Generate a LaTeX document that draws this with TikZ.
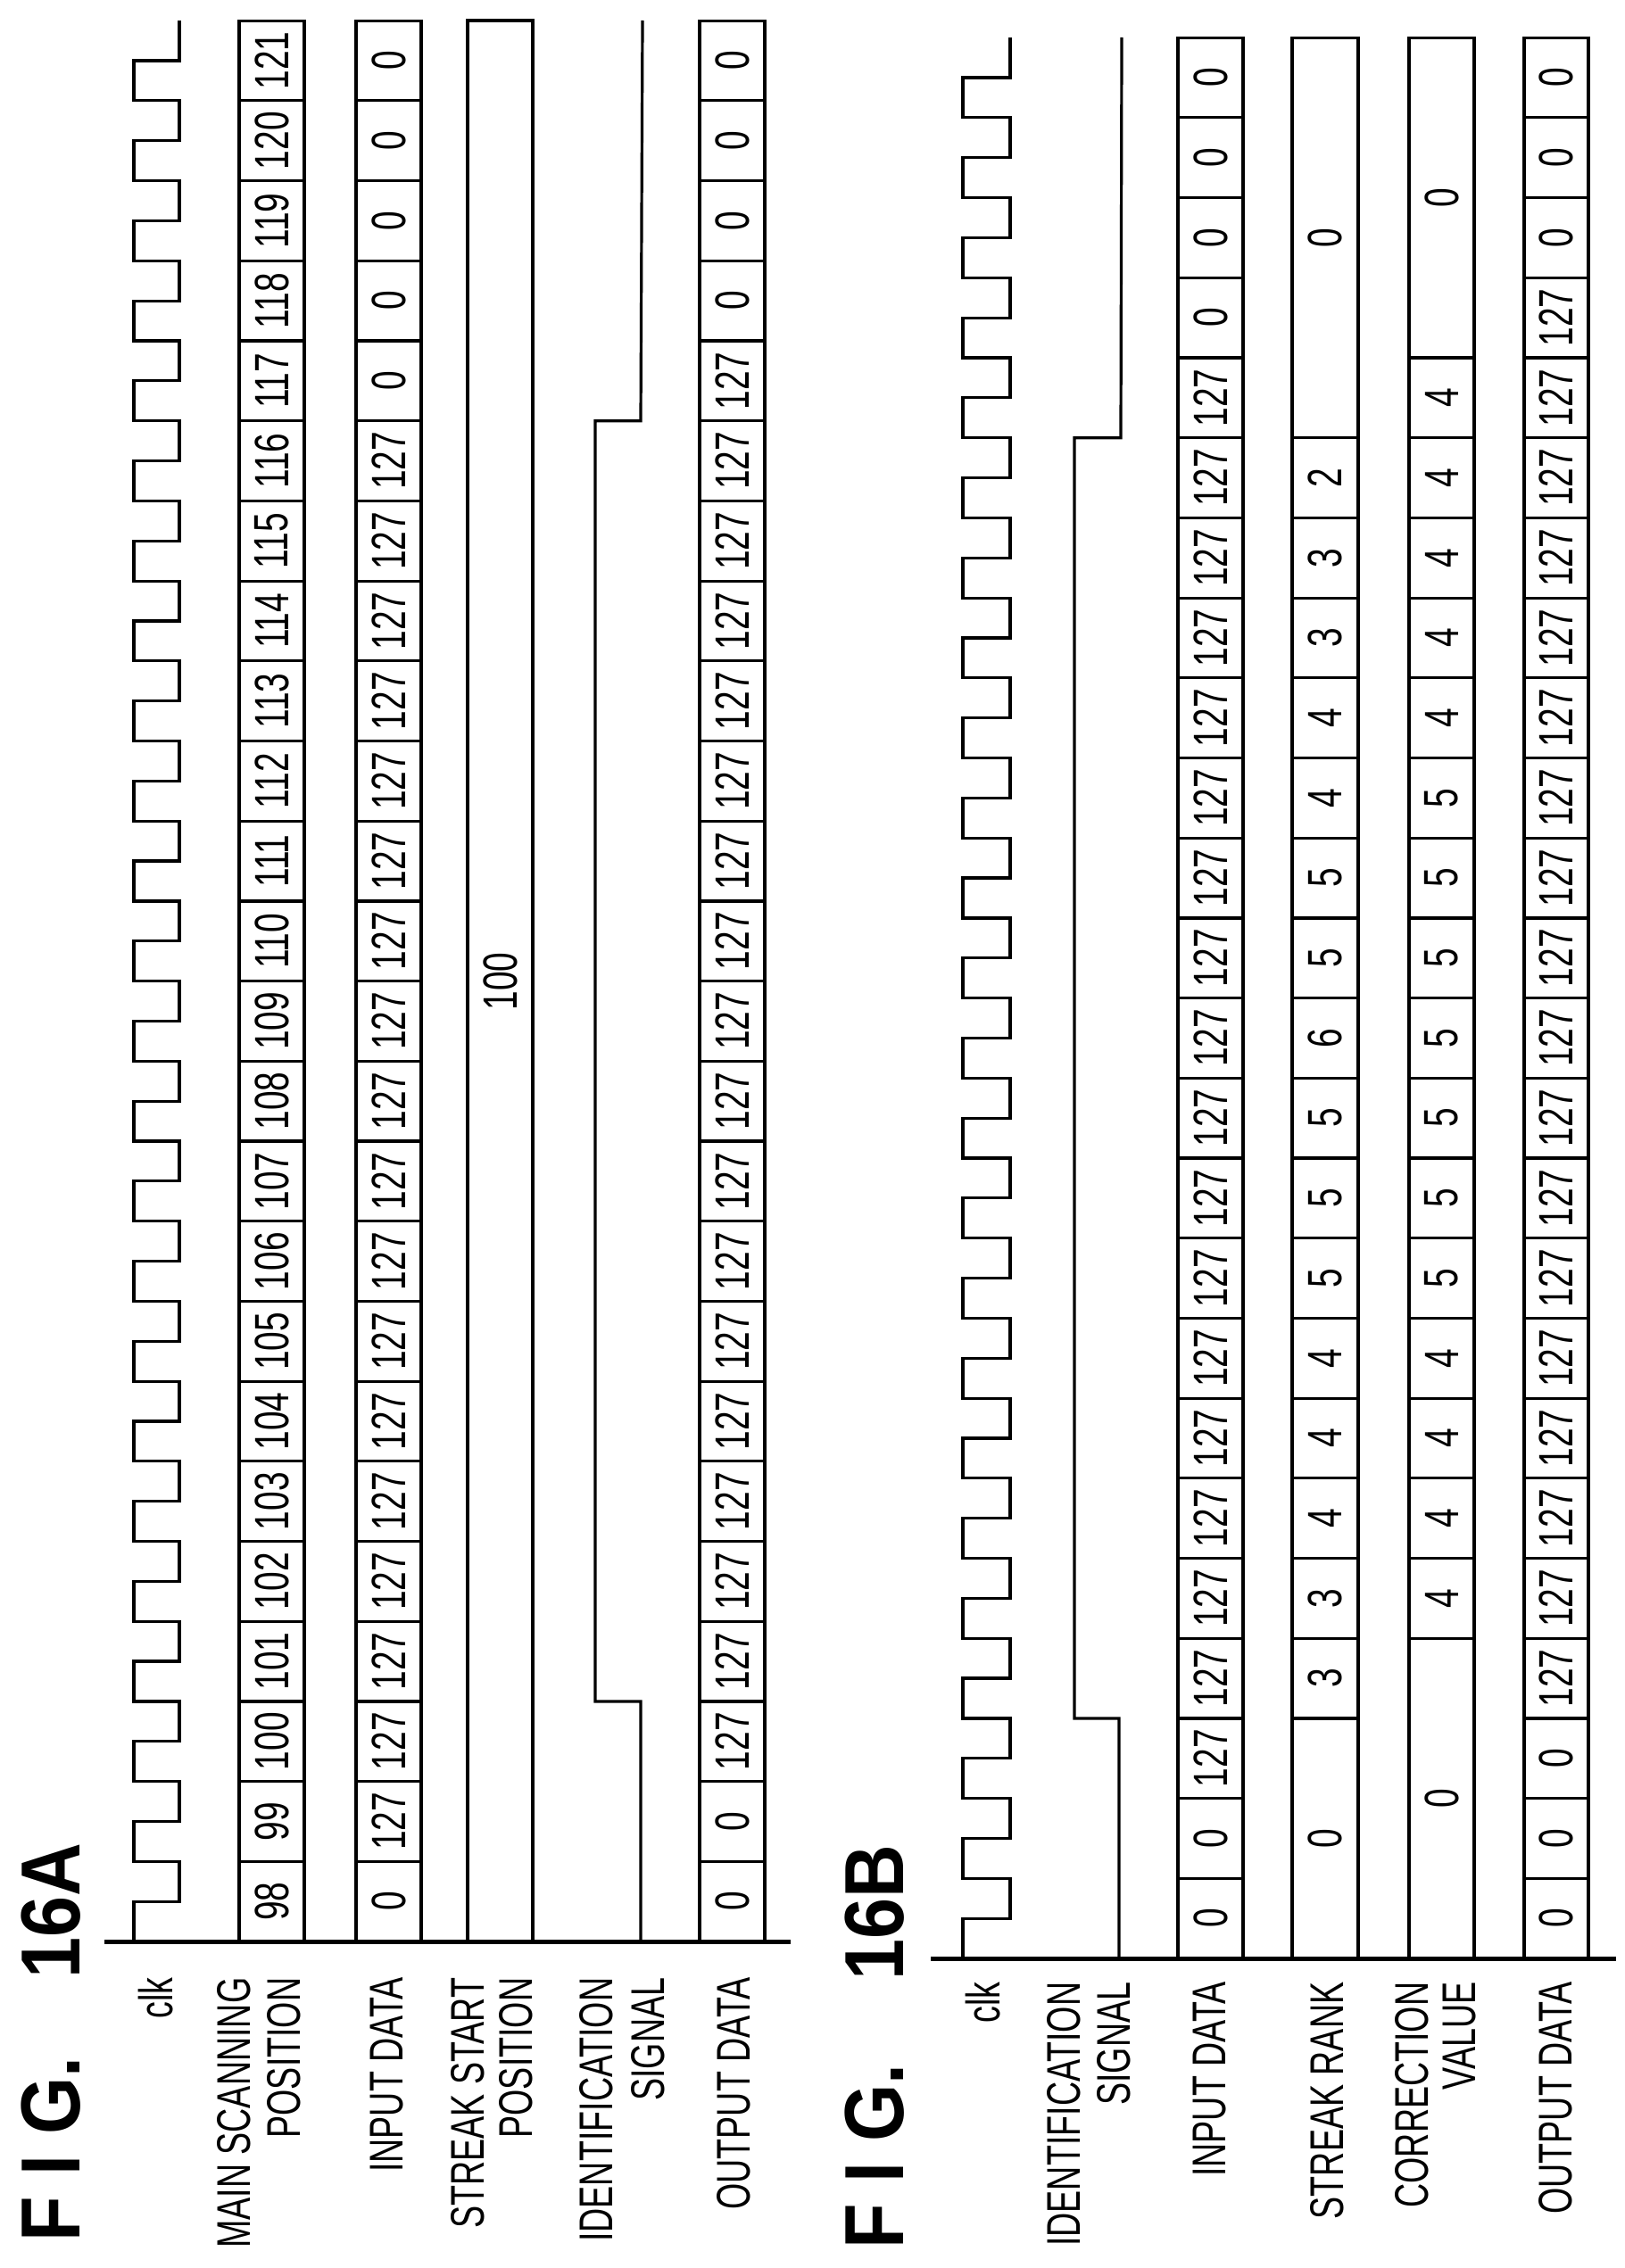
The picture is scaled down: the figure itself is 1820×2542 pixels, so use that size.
\documentclass[tikz,border=0pt]{standalone}
\usepackage{fontspec}
\newfontfamily\digf[FakeStretch=0.72]{Liberation Sans}
\newfontfamily\labf[FakeStretch=0.71]{Liberation Sans}
\newfontfamily\titf[FakeStretch=0.88]{Liberation Sans}
\def\hh{89.7}
\newcommand\mycol[4]{%
  \foreach \a/\b/\v in {#4}{%
    \draw (#1,{#3-\hh*\a}) rectangle (#2,{#3-\hh*(\b+1)});
    \node[num] at ({(#1+#2)/2},{#3-\hh*(\a+\b+1)/2}) {\v};
  }}
\newcommand\mybin[5]{%
  \foreach \k in {0,...,23}{%
    \ifnum\k<#4 \def\v{0}\else\ifnum\k>#5 \def\v{0}\else\def\v{127}\fi\fi
    \draw (#1,{#3-\hh*\k}) rectangle (#2,{#3-\hh*(\k+1)});
    \node[num] at ({(#1+#2)/2},{#3-\hh*(\k+0.5)}) {\v};
  }}
\newcommand\myclk[4]{% xhigh xlow base top
  \draw (#1,#3) \foreach \k in {0,...,22}{ -- (#1,{#3-\hh*(\k+0.5)}) -- (#2,{#3-\hh*(\k+0.5)}) -- (#2,{#3-\hh*(\k+1)}) -- (#1,{#3-\hh*(\k+1)}) }
   -- (#1,{#3-\hh*23.5}) -- (#2,{#3-\hh*23.5}) -- (#2,#4);}
\begin{document}
\begin{tikzpicture}[x=1pt,y=-1pt,line width=3.2pt,line join=miter,
  num/.style={rotate=90,inner sep=0,font=\fontsize{54}{60}\selectfont\digf},
  lab/.style={rotate=90,inner sep=0,anchor=east,font=\fontsize{53}{56}\selectfont\labf},
  tit/.style={rotate=90,inner sep=0,font=\fontsize{94}{100}\selectfont\bfseries\titf}]
\useasboundingbox (0,0) rectangle (1820,2542);
% ---------------- FIG 16A ----------------
\def\B{2176}
\myclk{150}{201}{\B}{23}
\foreach \k in {0,...,23}{%
  \pgfmathtruncatemacro\n{98+\k}
  \draw (268,{\B-\hh*\k}) rectangle (341,{\B-\hh*(\k+1)});
  \node[num] at (304.5,{\B-\hh*(\k+0.5)}) {\n};}
\mybin{399}{472}{\B}{1}{18}
\draw (524,23) rectangle (597,\B);
\node[num] at (560.5,1100) {100};
\draw (718,\B) -- (718,{\B-\hh*3}) -- (667,{\B-\hh*3}) -- (667,{\B-\hh*19}) -- (718,{\B-\hh*19}) -- (720,23);
\mybin{784}{857}{\B}{2}{19}
\draw[line width=5pt] (117,\B) -- (886,\B);
\node[lab] at (175,2215) {clk};
\node[lab] at (262,2215) {MAIN SCANNING};
\node[lab] at (318,2215) {POSITION};
\node[lab] at (434,2215) {INPUT DATA};
\node[lab] at (524,2215) {STREAK START};
\node[lab] at (578,2215) {POSITION};
\node[lab] at (668,2215) {IDENTIFICATION};
\node[lab] at (726,2215) {SIGNAL};
\node[lab] at (822,2215) {OUTPUT DATA};
\node[tit,anchor=east] at (57,2064) {16A};
\node[tit,anchor=west] at (57,2514) {F I G.};
% ---------------- FIG 16B ----------------
\def\B{2195}
\myclk{1079}{1132}{\B}{42}
\draw (1254,\B) -- (1254,{\B-\hh*3}) -- (1204,{\B-\hh*3}) -- (1204,{\B-\hh*19}) -- (1256,{\B-\hh*19}) -- (1257,42);
\mybin{1320}{1393}{\B}{2}{19}
\mycol{1448}{1522}{\B}{0/2/0,3/3/3,4/4/3,5/5/4,6/6/4,7/7/4,8/8/5,9/9/5,10/10/5,11/11/6,12/12/5,13/13/5,14/14/4,15/15/4,16/16/3,17/17/3,18/18/2,19/23/0}
\mycol{1579}{1652}{\B}{0/3/0,4/4/4,5/5/4,6/6/4,7/7/4,8/8/5,9/9/5,10/10/5,11/11/5,12/12/5,13/13/5,14/14/5,15/15/4,16/16/4,17/17/4,18/18/4,19/19/4,20/23/0}
\mybin{1708}{1780}{\B}{3}{20}
\draw[line width=5pt] (1043,\B) -- (1811,\B);
\node[lab] at (1102,2220) {clk};
\node[lab] at (1192,2220) {IDENTIFICATION};
\node[lab] at (1248,2220) {SIGNAL};
\node[lab] at (1356,2220) {INPUT DATA};
\node[lab] at (1487,2220) {STREAK RANK};
\node[lab] at (1582,2220) {CORRECTION};
\node[lab] at (1636,2220) {VALUE};
\node[lab] at (1743,2220) {OUTPUT DATA};
\node[tit,anchor=east] at (980,2066) {16B};
\node[tit,anchor=west] at (980,2522) {F I G.};
\end{tikzpicture}
\end{document}
